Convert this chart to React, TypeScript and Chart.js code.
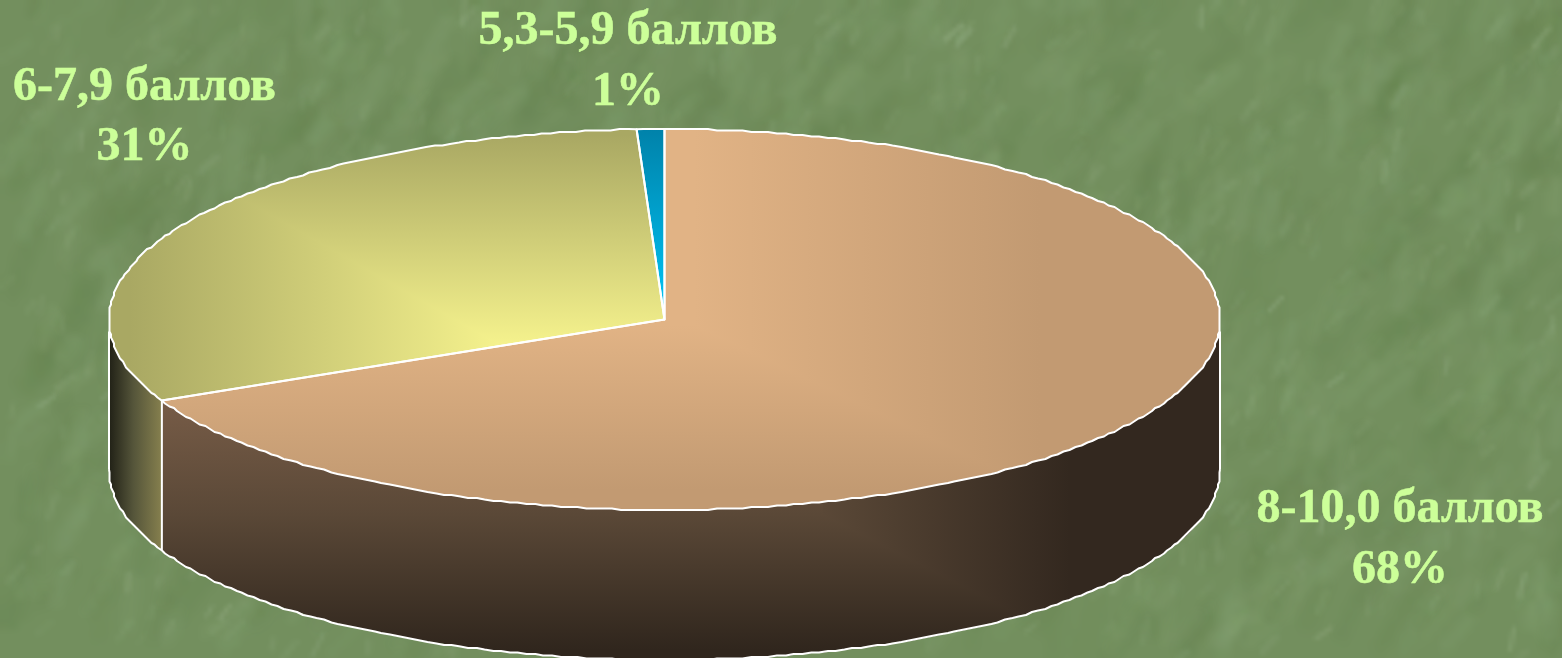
import React, { useEffect, useRef } from "react";
import { Chart, registerables } from "chart.js";

Chart.register(...registerables);

const categories = ["8-10,0 баллов", "6-7,9 баллов", "5,3-5,9 баллов"];
const shares = [68.0, 31.2, 0.8];
const percentLabels = shares.map((v) => `${Math.round(v)}%`);

const W = 1562;
const H = 658;
const CX = 664.5;
const CY = 319.5;
const RX = 555.5;
const RY = 190.5;
const DEPTH = 150;
const TILT = RY / RX;
const Q = 1.5;
const FONT = 'bold 48px "Liberation Serif", "Times New Roman", serif';
const labelPlaces = [
  { x: 1400, y: [522, 583] },
  { x: 144.5, y: [100, 160] },
  { x: 628, y: [44, 105] },
];

function lcg(seed: number) {
  let s = seed;
  return () => {
    s = (s * 1664525 + 1013904223) % 4294967296;
    return s / 4294967296;
  };
}

let textureCache: HTMLCanvasElement | null = null;
function texture() {
  if (textureCache) return textureCache;
  const c = document.createElement("canvas");
  c.width = W;
  c.height = H;
  const g = c.getContext("2d")!;
  g.fillStyle = "#738F5E";
  g.fillRect(0, 0, W, H);
  const next = lcg(12345);
  const pass = (
    count: number,
    color: string,
    scale: number,
    lo: number,
    hi: number,
    wLo: number,
    wHi: number,
    aLo: number,
    aHi: number
  ) => {
    // strokes are laid on a small layer; enlarging it softens them
    const layer = document.createElement("canvas");
    layer.width = Math.ceil(W / scale);
    layer.height = Math.ceil(H / scale);
    const l = layer.getContext("2d")!;
    l.lineCap = "round";
    l.strokeStyle = color;
    l.scale(1 / scale, 1 / scale);
    for (let i = 0; i < count; i++) {
      const x = next() * W;
      const y = next() * H;
      const ang = -Math.PI / 2 + next() * 1.0;
      const len = lo + next() * (hi - lo);
      l.globalAlpha = aLo + next() * (aHi - aLo);
      l.lineWidth = wLo + next() * (wHi - wLo);
      l.beginPath();
      l.moveTo(x, y);
      l.lineTo(x + Math.cos(ang) * len, y + Math.sin(ang) * len);
      l.stroke();
    }
    g.imageSmoothingEnabled = true;
    g.imageSmoothingQuality = "high";
    g.drawImage(layer, 0, 0, layer.width * scale, layer.height * scale);
  };
  pass(620, "#668350", 9, 20, 70, 10, 24, 0.1, 0.35);
  pass(760, "#83A071", 8, 15, 60, 8, 20, 0.1, 0.3);
  pass(600, "#8EA97E", 5, 8, 24, 4, 7, 0.08, 0.28);
  pass(70, "#9DB58F", 4, 10, 24, 4, 6, 0.15, 0.35);
  textureCache = c;
  return c;
}

function rim(a0: number, a1: number, dy: number) {
  const pts: [number, number][] = [];
  const n = Math.max(2, Math.ceil(Math.abs(a1 - a0) / (Math.PI / 200)));
  for (let i = 0; i <= n; i++) {
    const t = a0 + ((a1 - a0) * i) / n;
    const x = CX + RX * Math.cos(t);
    const y = CY + RY * Math.sin(t);
    const end = i === 0 || i === n;
    pts.push([end ? x : Math.round(x / Q) * Q, (end ? y : Math.round(y / Q) * Q) + dy]);
  }
  return pts;
}

function linear(g: CanvasRenderingContext2D, x0: number, y0: number, x1: number, y1: number, stops: [number, string][]) {
  const gr = g.createLinearGradient(x0, y0, x1, y1);
  stops.forEach(([o, c]) => gr.addColorStop(o, c));
  return gr;
}

function trace(g: CanvasRenderingContext2D, pts: [number, number][], move = true) {
  pts.forEach(([x, y], i) => (i === 0 && move ? g.moveTo(x, y) : g.lineTo(x, y)));
}

const pie3d = {
  id: "pie3d",
  beforeDraw(chart: any) {
    chart.ctx.drawImage(texture(), 0, 0);
  },
  beforeDatasetsDraw(chart: any) {
    const g: CanvasRenderingContext2D = chart.ctx;
    const arcs = chart.getDatasetMeta(0).data;
    const split = arcs[0].endAngle;

    const wall = (a0: number, a1: number) => {
      g.beginPath();
      trace(g, rim(a0, a1, 0));
      trace(g, rim(a1, a0, DEPTH), false);
      g.closePath();
    };

    g.save();
    wall(0, split);
    g.fillStyle = linear(g, 0, 400, 0, 650, [
      [0, "#775C47"],
      [0.46, "#5A4837"],
      [1, "#30261D"],
    ]);
    g.fill();
    g.clip();
    g.globalCompositeOperation = "darken";
    g.fillStyle = linear(g, 780, 0, 1070, 0, [
      [0, "#FFFFFF"],
      [0.15, "#5A4837"],
      [1, "#33281F"],
    ]);
    g.fillRect(700, 300, 900, 400);
    g.restore();

    g.save();
    wall(split, Math.PI);
    g.fillStyle = linear(g, 110, 0, 162, 0, [
      [0, "#232318"],
      [0.45, "#55553A"],
      [1, "#86804E"],
    ]);
    g.fill();
    g.restore();

    g.save();
    g.translate(CX, CY);
    g.scale(1, TILT);
    g.translate(-CX, -CY);
  },
  afterDatasetsDraw(chart: any) {
    const g: CanvasRenderingContext2D = chart.ctx;
    g.restore();
    const arcs = chart.getDatasetMeta(0).data;

    const slice = (i: number) => {
      g.beginPath();
      g.moveTo(CX, CY);
      trace(g, rim(arcs[i].startAngle, arcs[i].endAngle, 0), false);
      g.closePath();
    };

    // second gradient axis, giving the rectangular shading of the slices
    g.save();
    slice(0);
    g.clip();
    g.globalCompositeOperation = "darken";
    g.fillStyle = linear(g, 0, 325, 0, 490, [
      [0, "#E1B385"],
      [1, "#C29A72"],
    ]);
    g.fillRect(0, 0, W, H);
    g.restore();

    g.save();
    slice(1);
    g.clip();
    g.globalCompositeOperation = "darken";
    g.fillStyle = linear(g, 0, 345, 0, 135, [
      [0, "#F5F28D"],
      [1, "#A9A863"],
    ]);
    g.fillRect(0, 0, W, H);
    g.restore();

    // outlines
    g.save();
    g.strokeStyle = "#FFFFFF";
    g.lineWidth = 2;
    g.lineJoin = "round";
    const split = arcs[0].endAngle;
    const bx = CX + RX * Math.cos(split);
    const by = CY + RY * Math.sin(split);
    g.beginPath();
    trace(g, rim(0, Math.PI, DEPTH));
    for (const x of [CX + RX, CX - RX]) {
      g.moveTo(x, CY + 12);
      g.lineTo(x, CY + DEPTH);
    }
    g.moveTo(bx, by);
    g.lineTo(bx, by + DEPTH);
    g.stroke();
    arcs.forEach((_: any, i: number) => {
      slice(i);
      g.stroke();
    });
    g.restore();

    // labels
    g.save();
    g.font = FONT;
    g.fillStyle = "#CCFF99";
    g.strokeStyle = "#CCFF99";
    g.lineWidth = 0.5;
    g.textAlign = "center";
    g.textBaseline = "alphabetic";
    categories.forEach((name, i) => {
      const p = labelPlaces[i];
      g.fillText(name, p.x, p.y[0]);
      g.strokeText(name, p.x, p.y[0]);
      g.fillText(percentLabels[i], p.x, p.y[1]);
      g.strokeText(percentLabels[i], p.x, p.y[1]);
    });
    g.restore();
  },
};

export default function App() {
  const ref = useRef<HTMLCanvasElement>(null);
  useEffect(() => {
    document.body.style.margin = "0";
    document.body.style.overflow = "hidden";
    const canvas = ref.current!;
    const g = canvas.getContext("2d")!;
    const tan = linear(g, CX + 30, 0, 1040, 0, [
      [0, "#E1B385"],
      [1, "#C29A72"],
    ]);
    const olive = linear(g, 500, 0, 130, 0, [
      [0, "#F5F28D"],
      [1, "#A9A863"],
    ]);
    // fills are drawn in the flattened space, so the gradient runs through the squash
    const blue = linear(g, 0, CY - RX * (190 / RY), 0, CY, [
      [0, "#0082AA"],
      [1, "#00C6F7"],
    ]);
    const chart = new Chart(canvas, {
      type: "pie",
      data: {
        labels: categories,
        datasets: [
          {
            data: shares,
            backgroundColor: [tan, olive, blue],
            borderWidth: 0,
            clip: false,
          } as any,
        ],
      },
      options: {
        responsive: false,
        animation: false,
        events: [],
        radius: RX,
        layout: { padding: { left: 0, top: 0, right: W - 2 * CX, bottom: H - 2 * CY } },
        plugins: { legend: { display: false }, tooltip: { enabled: false } },
      } as any,
      plugins: [pie3d],
    });
    return () => chart.destroy();
  }, []);
  return <canvas ref={ref} width={W} height={H} style={{ display: "block" }} />;
}
